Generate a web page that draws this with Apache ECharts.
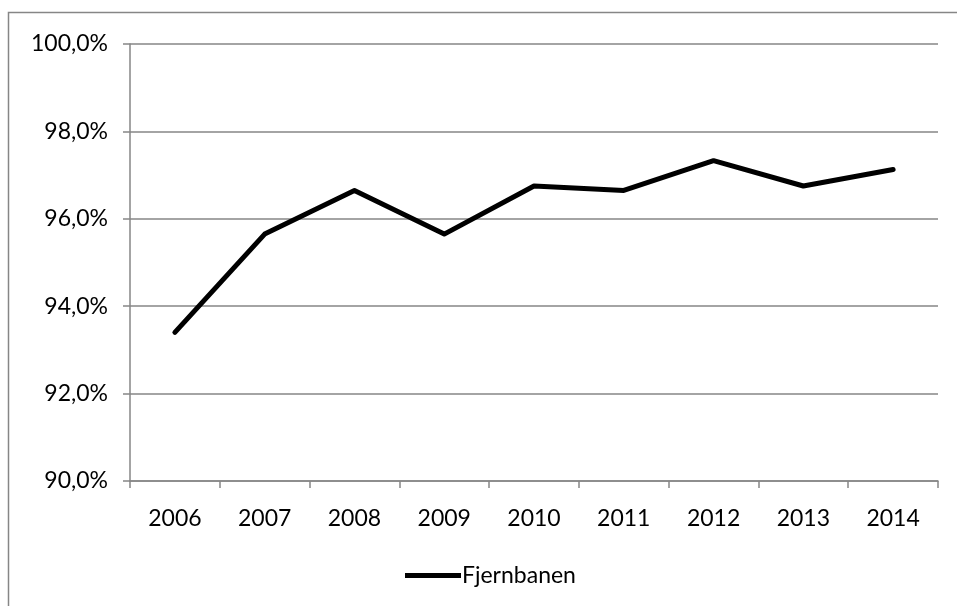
<!DOCTYPE html>
<html><head><meta charset="utf-8">
<script src="https://cdn.jsdelivr.net/npm/echarts@6/dist/echarts.min.js"></script>
<style>html,body{margin:0;padding:0;background:#fff}#c{width:957px;height:606px}</style>
</head><body><div id="c"></div>
<script>
var categories = ['2006','2007','2008','2009','2010','2011','2012','2013','2014'];
var seriesName = 'Fjernbanen';
var values = [93.4, 95.65, 96.65, 95.65, 96.75, 96.65, 97.33, 96.75, 97.13];
var chart = echarts.init(document.getElementById('c'));
var font = 'Lato, "Open Sans", sans-serif';
chart.setOption({
  backgroundColor: '#fff',
  animation: false,
  graphic: [{type:'rect', shape:{x:8.5,y:12.5,width:960,height:620}, style:{fill:'none', stroke:'#868686', lineWidth:1.5}, z:-1}],
  grid: {left:130, right:19, top:44, bottom:125},
  legend: {bottom:14, left:400, itemWidth:56, itemHeight:5, icon:'rect', itemGap:6,
    textStyle:{fontFamily:font, fontSize:23, color:'#000', padding:[0,0,0,-4]}, data:[seriesName]},
  xAxis: {type:'category', data:categories, boundaryGap:true,
    axisLine:{lineStyle:{color:'#868686', width:1.5}},
    axisTick:{show:true, length:7, lineStyle:{color:'#868686', width:1.5}},
    axisLabel:{fontFamily:font, fontSize:23, color:'#000', margin:26}},
  yAxis: {type:'value', min:90, max:100, interval:2,
    axisLine:{show:true, lineStyle:{color:'#868686', width:1.5}},
    axisTick:{show:true, length:7, lineStyle:{color:'#868686', width:1.5}},
    splitLine:{lineStyle:{color:'#868686', width:1.5}},
    axisLabel:{fontFamily:font, fontSize:23, color:'#000', margin:22,
      formatter:function(v){return v.toFixed(1).replace('.',',')+'%';}}},
  series: [{name:seriesName, type:'line', data:values, symbol:'none',
    lineStyle:{color:'#000', width:5, cap:'round', join:'round'}, itemStyle:{color:'#000'}}]
});
</script></body></html>
